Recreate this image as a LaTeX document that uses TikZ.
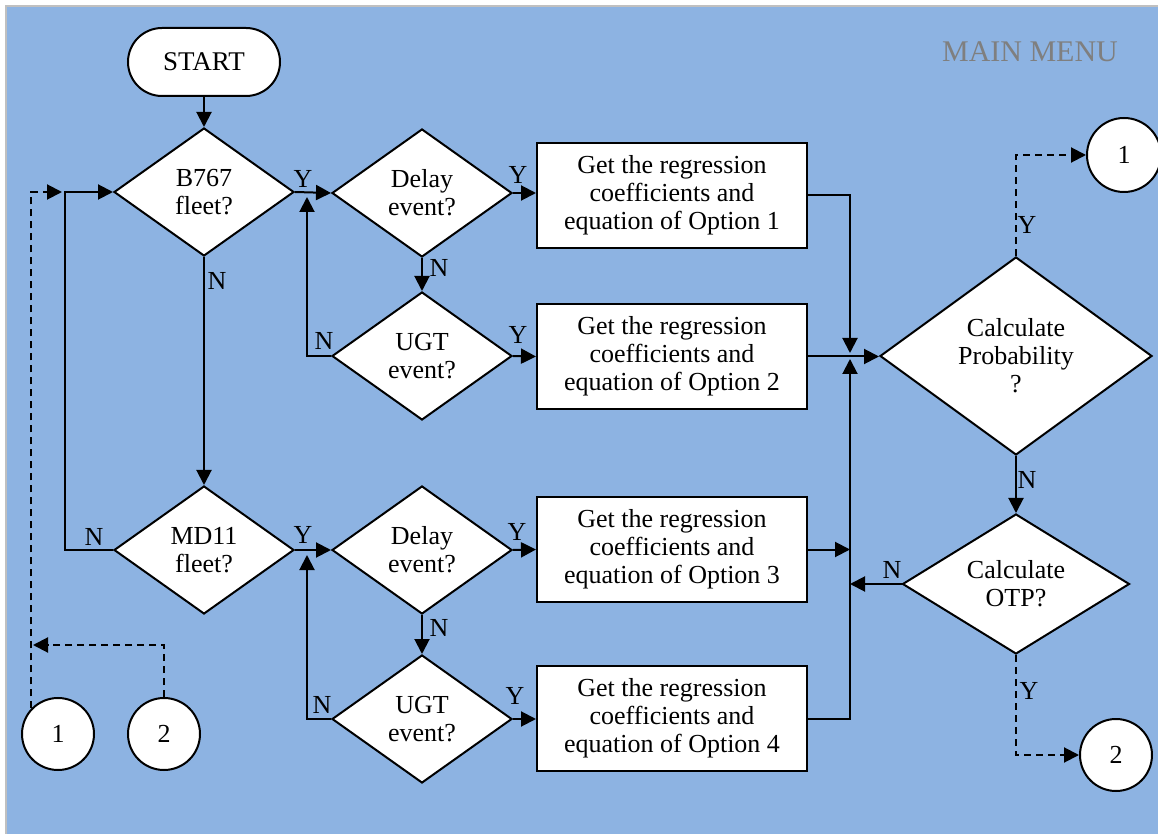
\documentclass[tikz,border=0pt]{standalone}
\usepackage{fontspec}
\setmainfont{Liberation Serif}
\usetikzlibrary{shapes.geometric,arrows.meta}
\definecolor{panelblue}{HTML}{8DB3E2}
\definecolor{framegray}{HTML}{C0C0C0}
\definecolor{titlegray}{HTML}{7F7F7F}
\begin{document}
\begin{tikzpicture}[x=0.5pt,y=-0.5pt,
  font=\fontsize{13}{14}\selectfont,
  line width=1pt,
  arr/.style={-{Triangle[length=7.5pt,width=7.5pt]}},
  dasharr/.style={arr,dash pattern=on 3.5pt off 2.5pt},
  dia/.style={diamond,draw,fill=white,inner sep=0pt,align=center,
              shape aspect=1.4,minimum width=90pt,minimum height=64pt},
  optbox/.style={rectangle,draw,fill=white,inner sep=0pt,align=center,
                 minimum width=135pt,minimum height=52.5pt},
  conn/.style={circle,draw,fill=white,inner sep=0pt,minimum size=36pt},
  lbl/.style={inner sep=0pt}
]
\useasboundingbox (0,0) rectangle (1158,834);
\fill[white] (0,0) rectangle (1158,834);
\draw[framegray,fill=panelblue] (6,6) rectangle (1175,850);

% title
\node[lbl,text=titlegray,font=\fontsize{15}{17}\selectfont] (title) at (1030,52) {MAIN MENU};

% start
\node[draw,fill=white,rounded corners=17pt,minimum width=76pt,minimum height=34pt,
      inner sep=0pt,font=\fontsize{13.5}{15}\selectfont] (start) at (204,62) {START};

% decisions
\node[dia] (b767) at (204,192) {B767\\fleet?};
\node[dia] (md11) at (204,550) {MD11\\fleet?};
\node[dia] (d1) at (422,193) {Delay\\event?};
\node[dia] (u1) at (422,356) {UGT\\event?};
\node[dia] (d2) at (422,550) {Delay\\event?};
\node[dia] (u2) at (422,719) {UGT\\event?};
\node[dia,shape aspect=1.37,minimum width=136pt,minimum height=99pt] (prob) at (1016,356)
     {Calculate\\Probability\\?};
\node[dia,shape aspect=1.62,minimum width=113.5pt,minimum height=70pt] (otp) at (1016,584)
     {Calculate\\OTP?};

% regression boxes
\node[optbox] (o1) at (672,195.5) {Get the regression\\coefficients and\\equation of Option 1};
\node[optbox] (o2) at (672,356.5) {Get the regression\\coefficients and\\equation of Option 2};
\node[optbox] (o3) at (672,549.5) {Get the regression\\coefficients and\\equation of Option 3};
\node[optbox] (o4) at (672,718.5) {Get the regression\\coefficients and\\equation of Option 4};

% off-page connectors
\node[conn] (c1L) at (58,734) {1};
\node[conn] (c2L) at (164,734) {2};
\node[conn,minimum size=37pt] (c1R) at (1124,155) {1};
\node[conn] (c2R) at (1116,755) {2};

% bend and merge points
\coordinate (jL) at (65,192);
\coordinate (jLd) at (62,192);
\coordinate (jD) at (33,645);
\coordinate (jY1) at (307,197);
\coordinate (jY2) at (307,555);
\coordinate (jM1) at (850,353);
\coordinate (jM2) at (850,359);

% flow
\draw[arr] (start.south) -- (b767.north);
\draw[arr] (b767.east) -- (d1.west);
\draw[arr] (b767.south) -- (md11.north);
\draw[arr] (md11.west) -| (jL) -- (b767.west);
\draw[dasharr] (c1L.136) |- (jLd);
\draw[dasharr] (c2L.north) |- (jD);

\draw[arr] (d1.south) -- (u1.north);
\draw[arr] (u1.west) -| (jY1);
\draw[arr] (d1.east) -- (d1.east -| o1.west);
\draw[arr] (u1.east) -- (o2.west);

\draw[arr] (md11.east) -- (d2.west);
\draw[arr] (d2.south) -- (u2.north);
\draw[arr] (u2.west) -| (jY2);
\draw[arr] (d2.east) -- (o3.west);
\draw[arr] (u2.east) -- (u2.east -| o4.west);

\draw[arr] (o1.east) -| (jM1);
\draw[arr] (o4.east) -| (jM2);
\draw[arr] (o2.east) -- (o2.east -| prob.west);
\draw[arr] (o3.east) -- (o3.east -| jM1);
\draw[arr] (otp.west) -- (otp.west -| jM1);

\draw[arr] (prob.south) -- (otp.north);
\draw[dasharr] (prob.north) |- (c1R.west);
\draw[dasharr] (otp.south) |- (c2R.west);

% branch labels
\node[lbl] (y1) at (303,179) {Y};
\node[lbl] (n1) at (217,281) {N};
\node[lbl] (y2) at (518,175) {Y};
\node[lbl] (n2) at (439,268) {N};
\node[lbl] (n3) at (324,341) {N};
\node[lbl] (y3) at (518,335) {Y};
\node[lbl] (n4) at (94,537) {N};
\node[lbl] (y4) at (303,535) {Y};
\node[lbl] (y5) at (517,532) {Y};
\node[lbl] (n5) at (439,628) {N};
\node[lbl] (n6) at (322,705) {N};
\node[lbl] (y6) at (515,696) {Y};
\node[lbl] (y7) at (1027,225) {Y};
\node[lbl] (n7) at (1027,480) {N};
\node[lbl] (n8) at (892,570) {N};
\node[lbl] (y8) at (1029,691) {Y};
\end{tikzpicture}
\end{document}
